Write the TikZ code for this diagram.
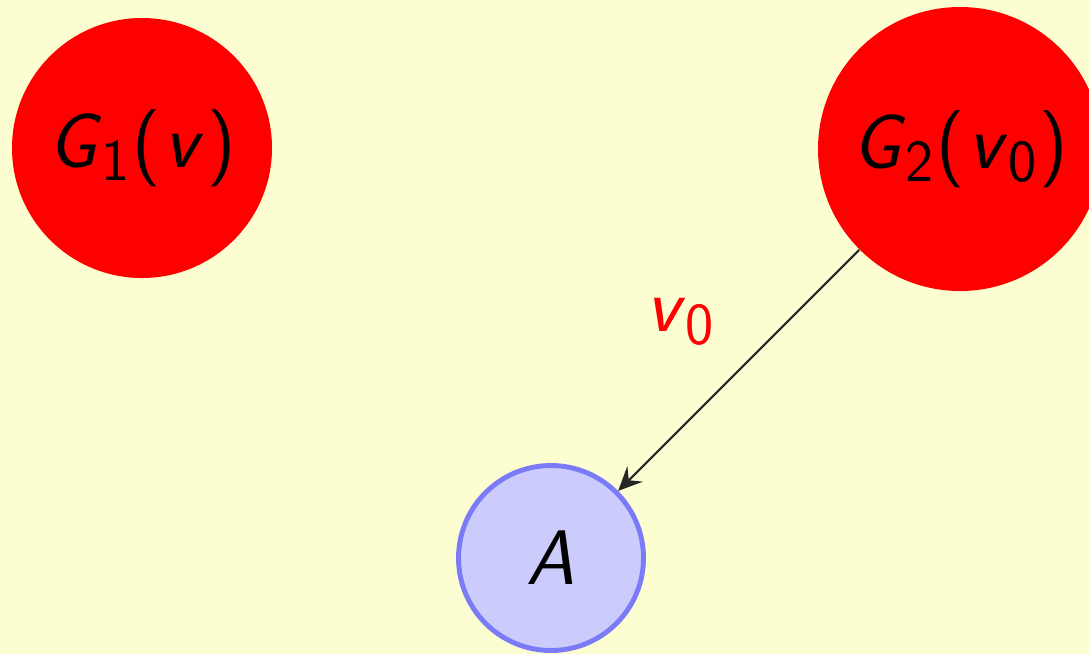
\documentclass[tikz,border=0pt]{standalone}
\usepackage{xcolor}
\usepackage{tikz}
\usetikzlibrary{arrows.meta,positioning}
\definecolor{paper}{HTML}{FDFDD2}
\definecolor{ballred}{HTML}{FF0000}
\definecolor{nodeblue}{HTML}{CBCBFC}
\definecolor{rimblue}{HTML}{7B7BF7}
\definecolor{muted}{HTML}{262626}
% slanted sans letters, upright sans digits and brackets
\newcommand{\sv}[1]{\textit{#1}}
\newcommand{\sub}[1]{\raisebox{-0.4ex}{\fontsize{17}{20}\selectfont #1}}

\begin{document}
\begin{tikzpicture}[
    font=\fontsize{22}{26}\selectfont\sffamily,
    graphball/.style={
      circle,
      fill=ballred,
      draw=none,
      inner sep=0pt
    },
    targetnode/.style={
      circle,
      fill=nodeblue,
      draw=rimblue,
      line width=1.4pt,
      minimum size=1.85cm,
      inner sep=0pt
    },
    arrow/.style={-{Stealth[length=2.4mm, width=2.2mm, inset=0.9mm]}, line width=0.6pt, draw=muted}
  ]
    \fill[paper] (0,0) rectangle (10.89,6.54);
    \useasboundingbox (0,0) rectangle (10.89,6.54);

    \node[graphball, minimum size=2.60cm] (g1) at (1.42,5.06) {\sv{G}\sub{1}\kern1pt(\kern1pt\sv{v}\kern1pt)};
    \node[graphball, minimum size=2.84cm] (g2) at (9.60,5.05) {\sv{G}\sub{2}\kern1pt(\kern1pt\sv{v}\sub{0}\kern1pt)};
    \node[targetnode] (a) at (5.51,0.96) {\sv{A}};

    \draw[arrow] (g2) -- (a)
      node[midway, above left=0.12cm and 0.12cm, text=ballred] (lbl) {\sv{v}\sub{0}};
  \end{tikzpicture}
\end{document}
